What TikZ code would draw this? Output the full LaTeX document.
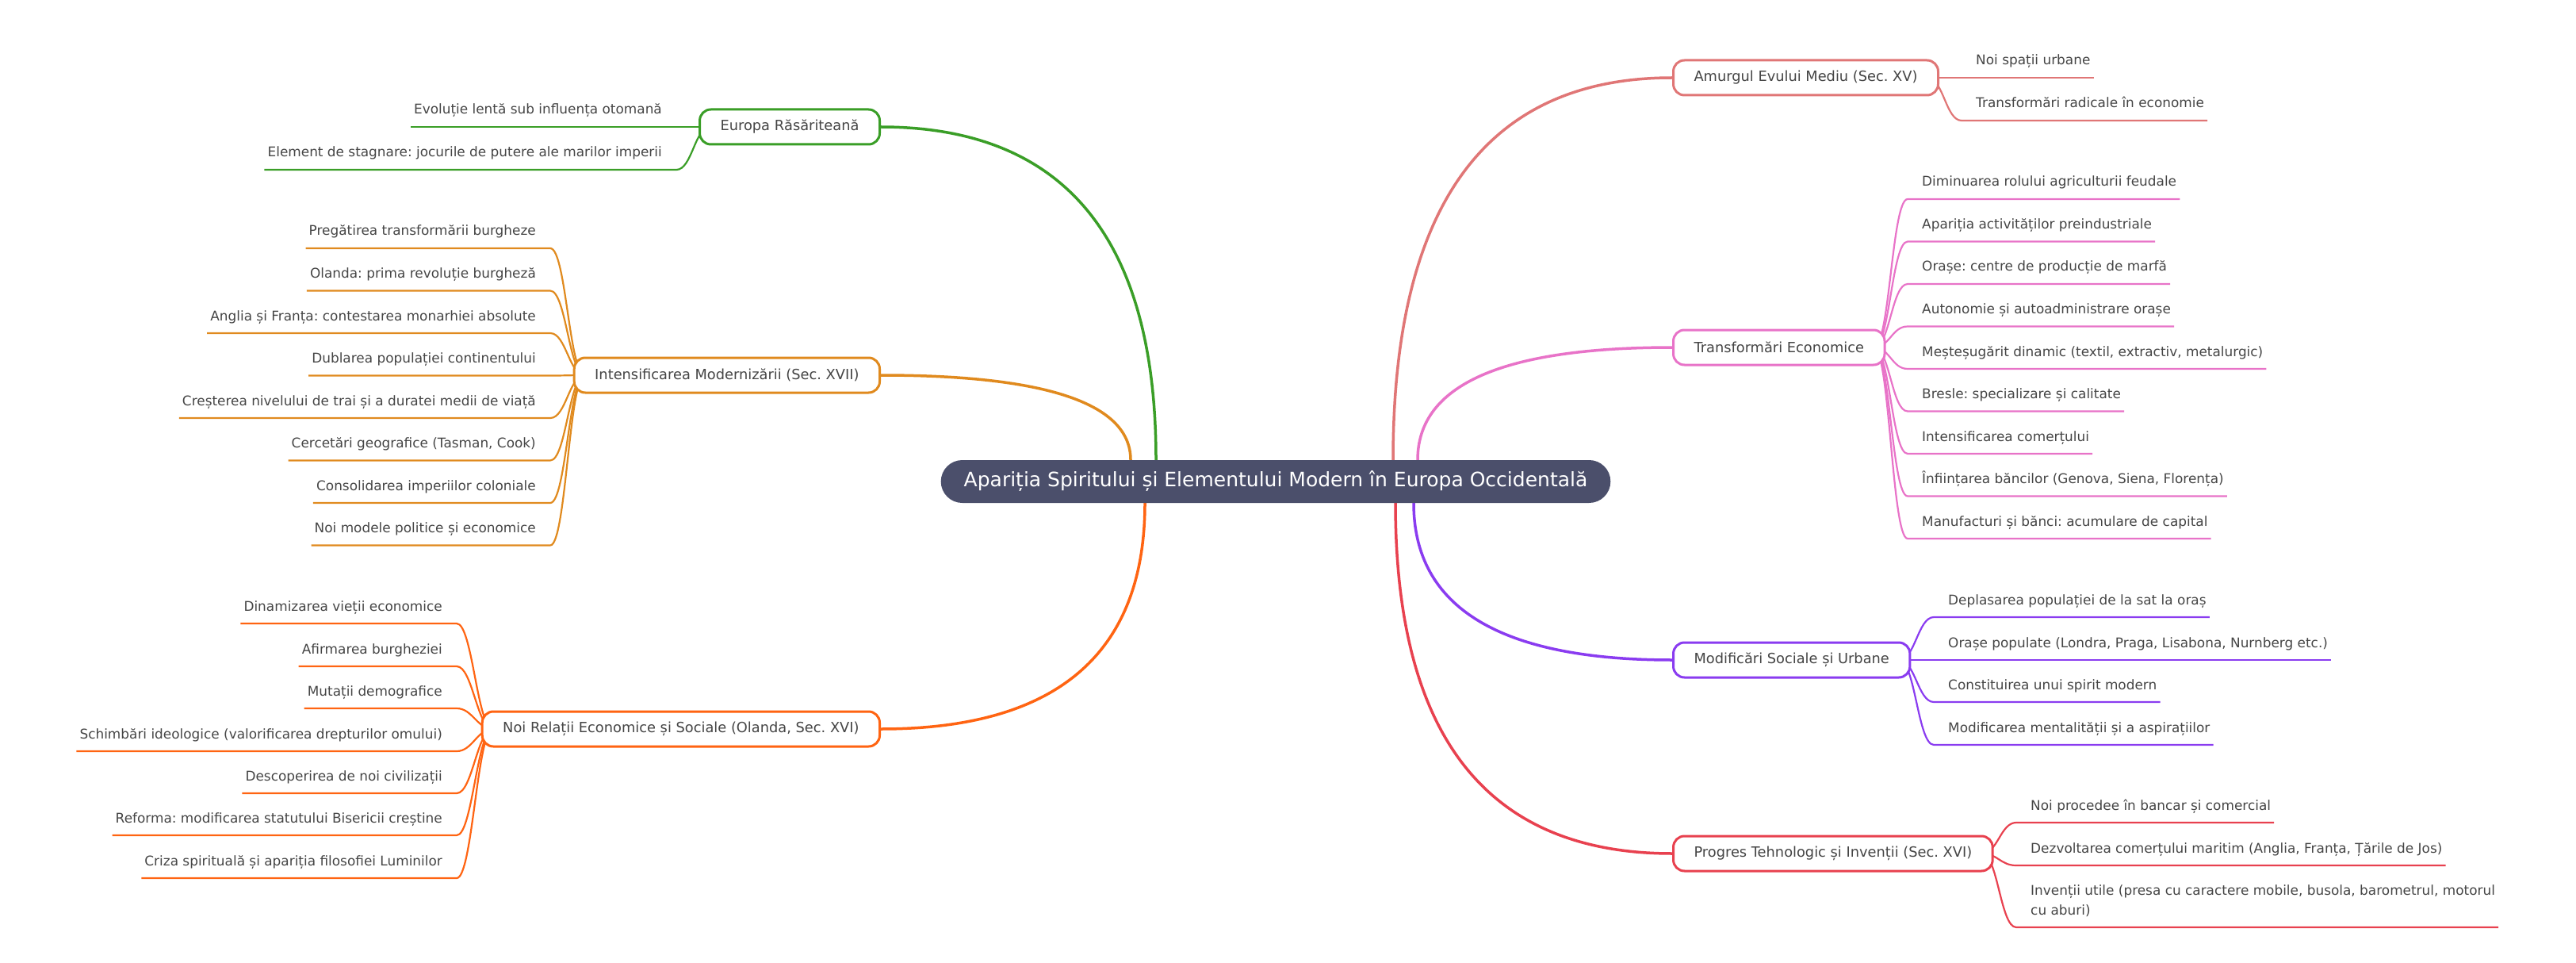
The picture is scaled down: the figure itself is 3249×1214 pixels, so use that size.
\documentclass[tikz,border=0pt]{standalone}
\usepackage{fontspec}
\setmainfont{DejaVu Sans}
\usetikzlibrary{backgrounds}
\frenchspacing

\definecolor{rootbg}{HTML}{4B4F6B}
\definecolor{txtgray}{HTML}{454545}
\definecolor{cgreen}{HTML}{3A9E27}
\definecolor{corange}{HTML}{E08A1E}
\definecolor{cvermil}{HTML}{FF6412}
\definecolor{csalmon}{HTML}{E07676}
\definecolor{cpink}{HTML}{E873C8}
\definecolor{cpurple}{HTML}{8A3CF0}
\definecolor{cred}{HTML}{E8414F}

\begin{document}
\begin{tikzpicture}[x=1pt, y=-1pt,
    rootbox/.style={fill=rootbg, text=white, rounded corners=27pt,
                    minimum height=54pt, inner xsep=29pt,
                    font=\fontsize{25}{30}\selectfont},
    branchbox/.style={draw=#1, fill=white, line width=3pt, rounded corners=14pt,
                      minimum height=44pt, inner xsep=26pt, text=txtgray,
                      font=\fontsize{17.8}{21}\selectfont},
    leaftext/.style={inner sep=0pt, text=txtgray,
                     font=\fontsize{16.9}{25}\selectfont},
    trunk/.style={draw=#1, line width=3.5pt},
    twig/.style={draw=#1, line width=2.2pt}
  ]
  \useasboundingbox (0,0) rectangle (3249,1214);

  % Root
  \node[rootbox] (root) at (1609,607)
    {Apariția Spiritului și Elementului Modern în Europa Occidentală};

  % Main branches, left
  \node[branchbox=cgreen, anchor=east] (er) at (1111,160) {Europa Răsăriteană};
  \node[branchbox=corange, anchor=east] (im) at (1111,473)
    {Intensificarea Modernizării (Sec. XVII)};
  \node[branchbox=cvermil, anchor=east] (nr) at (1111,919)
    {Noi Relații Economice și Sociale (Olanda, Sec. XVI)};

  % Main branches, right
  \node[branchbox=csalmon, anchor=west] (am) at (2109,98) {Amurgul Evului Mediu (Sec. XV)};
  \node[branchbox=cpink, anchor=west] (te) at (2109,438) {Transformări Economice};
  \node[branchbox=cpurple, anchor=west] (ms) at (2109,832) {Modificări Sociale și Urbane};
  \node[branchbox=cred, anchor=west] (pt) at (2109,1076)
    {Progres Tehnologic și Invenții (Sec. XVI)};

  % Trunks
  \begin{scope}[on background layer]
    \draw[trunk=cgreen] ([xshift=-151pt]root.north) .. controls (1458,300) and (1342,160) .. (er.east);
    \draw[trunk=corange] ([xshift=-183pt]root.north) .. controls (1426,509) and (1321,473) .. (im.east);
    \draw[trunk=cvermil] ([xshift=-165pt]root.south) .. controls (1444,824) and (1333,919) .. (nr.east);
    \draw[trunk=csalmon] ([xshift=148pt]root.north) .. controls (1757,259) and (1874,98) .. (am.west);
    \draw[trunk=cpink] ([xshift=179pt]root.north) .. controls (1788,485) and (1895,438) .. (te.west);
    \draw[trunk=cpurple] ([xshift=174pt]root.south) .. controls (1783,766) and (1892,832) .. (ms.west);
    \draw[trunk=cred] ([xshift=151pt]root.south) .. controls (1760,929) and (1876,1076) .. (pt.west);
  \end{scope}

  % Leaves: Europa Răsăriteană
  \foreach \y/\lab [count=\i] in {144/Evoluție lentă sub influența otomană,
      198/Element de stagnare: jocurile de putere ale marilor imperii} {
    \node[leaftext, anchor=base east] (er\i) at (835,\y) {\lab};
    \begin{scope}[on background layer]
      \draw[twig=cgreen] ([xshift=15pt]er.west) .. controls ([xshift=-5pt]er.west)
        and ([shift={(38pt,-16pt)}]er\i.base east) .. ([shift={(18pt,-16pt)}]er\i.base east)
        -- ([shift={(-4pt,-16pt)}]er\i.base west);
    \end{scope}
  }

  % Leaves: Intensificarea Modernizării
  \foreach \y/\lab [count=\i] in {297/Pregătirea transformării burgheze,
      350.5/Olanda: prima revoluție burgheză,
      404/Anglia și Franța: contestarea monarhiei absolute,
      457.5/Dublarea populației continentului,
      511/Creșterea nivelului de trai și a duratei medii de viață,
      564.5/{Cercetări geografice (Tasman, Cook)},
      618/Consolidarea imperiilor coloniale,
      671.5/Noi modele politice și economice} {
    \node[leaftext, anchor=base east] (im\i) at (676,\y) {\lab};
    \begin{scope}[on background layer]
      \draw[twig=corange] ([xshift=15pt]im.west) .. controls ([xshift=-5pt]im.west)
        and ([shift={(38pt,-16pt)}]im\i.base east) .. ([shift={(18pt,-16pt)}]im\i.base east)
        -- ([shift={(-4pt,-16pt)}]im\i.base west);
    \end{scope}
  }

  % Leaves: Noi Relații Economice și Sociale
  \foreach \y/\lab [count=\i] in {770/Dinamizarea vieții economice,
      824/Afirmarea burgheziei,
      877/Mutații demografice,
      931/Schimbări ideologice (valorificarea drepturilor omului),
      984/Descoperirea de noi civilizații,
      1037/Reforma: modificarea statutului Bisericii creștine,
      1091/Criza spirituală și apariția filosofiei Luminilor} {
    \node[leaftext, anchor=base east] (nr\i) at (558,\y) {\lab};
    \begin{scope}[on background layer]
      \draw[twig=cvermil] ([xshift=15pt]nr.west) .. controls ([xshift=-5pt]nr.west)
        and ([shift={(38pt,-16pt)}]nr\i.base east) .. ([shift={(18pt,-16pt)}]nr\i.base east)
        -- ([shift={(-4pt,-16pt)}]nr\i.base west);
    \end{scope}
  }

  % Leaves: Amurgul Evului Mediu
  \foreach \y/\lab [count=\i] in {82/Noi spații urbane,
      136/Transformări radicale în economie} {
    \node[leaftext, anchor=base west] (am\i) at (2492,\y) {\lab};
    \begin{scope}[on background layer]
      \draw[twig=csalmon] ([xshift=-15pt]am.east) .. controls ([xshift=5pt]am.east)
        and ([shift={(-38pt,-16pt)}]am\i.base west) .. ([shift={(-18pt,-16pt)}]am\i.base west)
        -- ([shift={(4pt,-16pt)}]am\i.base east);
    \end{scope}
  }

  % Leaves: Transformări Economice
  \foreach \y/\lab [count=\i] in {235/Diminuarea rolului agriculturii feudale,
      288.5/Apariția activităților preindustriale,
      342/Orașe: centre de producție de marfă,
      395.5/Autonomie și autoadministrare orașe,
      449/{Meșteșugărit dinamic (textil, extractiv, metalurgic)},
      502.5/Bresle: specializare și calitate,
      556/Intensificarea comerțului,
      609.5/{Înființarea băncilor (Genova, Siena, Florența)},
      663/Manufacturi și bănci: acumulare de capital} {
    \node[leaftext, anchor=base west] (te\i) at (2424,\y) {\lab};
    \begin{scope}[on background layer]
      \draw[twig=cpink] ([xshift=-15pt]te.east) .. controls ([xshift=5pt]te.east)
        and ([shift={(-38pt,-16pt)}]te\i.base west) .. ([shift={(-18pt,-16pt)}]te\i.base west)
        -- ([shift={(4pt,-16pt)}]te\i.base east);
    \end{scope}
  }

  % Leaves: Modificări Sociale și Urbane
  \foreach \y/\lab [count=\i] in {762/Deplasarea populației de la sat la oraș,
      816/{Orașe populate (Londra, Praga, Lisabona, Nurnberg etc.)},
      869/Constituirea unui spirit modern,
      923/Modificarea mentalității și a aspirațiilor} {
    \node[leaftext, anchor=base west] (ms\i) at (2457,\y) {\lab};
    \begin{scope}[on background layer]
      \draw[twig=cpurple] ([xshift=-15pt]ms.east) .. controls ([xshift=5pt]ms.east)
        and ([shift={(-38pt,-16pt)}]ms\i.base west) .. ([shift={(-18pt,-16pt)}]ms\i.base west)
        -- ([shift={(4pt,-16pt)}]ms\i.base east);
    \end{scope}
  }

  % Leaves: Progres Tehnologic și Invenții
  \foreach \y/\lab [count=\i] in {1021/Noi procedee în bancar și comercial,
      1075/{Dezvoltarea comerțului maritim (Anglia, Franța, Țările de Jos)},
      1153/{Invenții utile (presa cu caractere mobile, busola, barometrul, motorul\\cu aburi)}} {
    \node[leaftext, anchor=base west, align=left] (pt\i) at (2561,\y) {\lab};
    \begin{scope}[on background layer]
      \draw[twig=cred] ([xshift=-15pt]pt.east) .. controls ([xshift=5pt]pt.east)
        and ([shift={(-38pt,-16pt)}]pt\i.base west) .. ([shift={(-18pt,-16pt)}]pt\i.base west)
        -- ([shift={(4pt,-16pt)}]pt\i.base east);
    \end{scope}
  }
\end{tikzpicture}
\end{document}
